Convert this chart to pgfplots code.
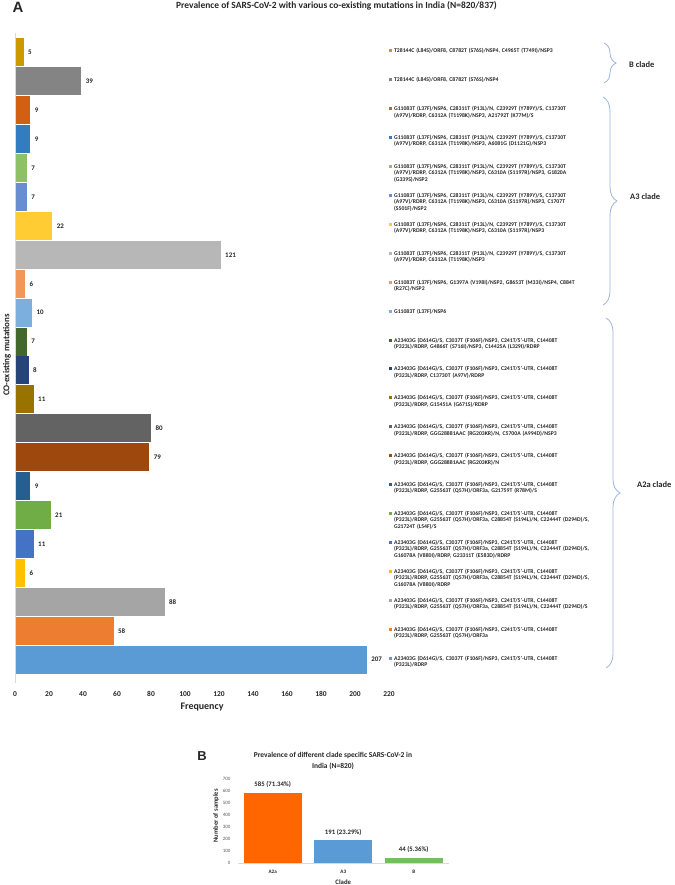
\documentclass[border=0pt]{standalone}
\usepackage{pgfplots}
\pgfplotsset{compat=1.18}
\usepackage{fontspec}
\setmainfont{Carlito}
\newfontfamily\arialfont{Liberation Sans}
\usetikzlibrary{decorations.pathreplacing}

\definecolor{c01}{HTML}{CC9A00}
\definecolor{c02}{HTML}{848484}
\definecolor{c03}{HTML}{D26012}
\definecolor{c04}{HTML}{327DC2}
\definecolor{c05}{HTML}{8CC168}
\definecolor{c06}{HTML}{698ED0}
\definecolor{c07}{HTML}{FFCD33}
\definecolor{c08}{HTML}{B7B7B7}
\definecolor{c09}{HTML}{F1975A}
\definecolor{c10}{HTML}{7CAFDD}
\definecolor{c11}{HTML}{43682B}
\definecolor{c12}{HTML}{264478}
\definecolor{c13}{HTML}{997300}
\definecolor{c14}{HTML}{636363}
\definecolor{c15}{HTML}{9E480E}
\definecolor{c16}{HTML}{255E91}
\definecolor{c17}{HTML}{70AD47}
\definecolor{c18}{HTML}{4472C4}
\definecolor{c19}{HTML}{FFC000}
\definecolor{c20}{HTML}{A5A5A5}
\definecolor{c21}{HTML}{ED7D31}
\definecolor{c22}{HTML}{5B9BD5}
\definecolor{txt}{HTML}{262626}
\definecolor{legtxt}{HTML}{262626}
\definecolor{bracecol}{HTML}{9DB4E0}
\definecolor{axgray}{HTML}{D9D9D9}
\definecolor{tickgray}{HTML}{595959}
\definecolor{borange}{HTML}{FF6600}
\definecolor{bblue}{HTML}{5B9BD5}
\definecolor{bgreen}{HTML}{77BD5F}

\newcommand{\legfont}{\fontsize{5.75}{6.4}\selectfont\bfseries}
\newcommand{\gA}{G11083T (L37F)/NSP6, C28311T (P13L)/N, C23929T (Y789Y)/S, C13730T\\(A97V)/RDRP, C6312A (T1198K)/NSP3}
\newcommand{\pA}{A23403G (D614G)/S, C3037T (F106F)/NSP3, C241T/5'-UTR, C14408T\\(P323L)/RDRP}
\newcommand{\lentry}[3]{%
  \node[anchor=base west, inner sep=0pt, text=#2, yshift=-0.5bp] at (axis cs:220,#1) {\rule[0.5bp]{3bp}{3bp}};
  \node[anchor=base west, inner sep=0pt, text width=250bp, align=left, font=\legfont, text=legtxt, yshift=-0.5bp] at (axis cs:222.9,#1) {#3};
}
\pgfplotsset{mybar/.style={bar shift=0pt, draw=none, fill=#1}}

\begin{document}
\begin{tikzpicture}
\useasboundingbox (0,0) rectangle (675bp,885bp);

% ---------------- Chart A ----------------
\begin{axis}[
  at={(15bp,202bp)}, anchor=south west,
  scale only axis, width=374bp, height=650bp,
  xmin=0, xmax=220, ymin=-0.81, ymax=21.67,
  xtick={0,20,...,220}, ytick=\empty,
  axis line style={draw=none},
  major tick length=0pt,
  /pgf/number format/assume math mode=true,
  xticklabel style={font=\fontsize{7.5}{8}\selectfont\bfseries, text=txt, yshift=-5bp},
  xlabel={Frequency},
  xlabel style={at={(axis description cs:0.5,0)}, anchor=center, yshift=-24bp, font=\fontsize{10}{12}\selectfont\bfseries, text=txt},
  ylabel={CO-existing mutations},
  every axis y label/.style={at={(axis description cs:-0.0214,0.5046)}, rotate=90, anchor=center, font=\fontsize{9}{11}\selectfont\bfseries, text=txt},
  clip=false,
  xbar, bar width=28bp,
  point meta=x,
  nodes near coords,
  every node near coord/.append style={anchor=west, font=\fontsize{7}{8}\selectfont\bfseries, text=txt, xshift=1bp},
]
\addplot[mybar=c01] coordinates {(5,21)};
\addplot[mybar=c02] coordinates {(39,20)};
\addplot[mybar=c03] coordinates {(9,19)};
\addplot[mybar=c04] coordinates {(9,18)};
\addplot[mybar=c05] coordinates {(7,17)};
\addplot[mybar=c06] coordinates {(7,16)};
\addplot[mybar=c07] coordinates {(22,15)};
\addplot[mybar=c08] coordinates {(121,14)};
\addplot[mybar=c09] coordinates {(6,13)};
\addplot[mybar=c10] coordinates {(10,12)};
\addplot[mybar=c11] coordinates {(7,11)};
\addplot[mybar=c12] coordinates {(8,10)};
\addplot[mybar=c13] coordinates {(11,9)};
\addplot[mybar=c14] coordinates {(80,8)};
\addplot[mybar=c15] coordinates {(79,7)};
\addplot[mybar=c16] coordinates {(9,6)};
\addplot[mybar=c17] coordinates {(21,5)};
\addplot[mybar=c18] coordinates {(11,4)};
\addplot[mybar=c19] coordinates {(6,3)};
\addplot[mybar=c20] coordinates {(88,2)};
\addplot[mybar=c21] coordinates {(58,1)};
\addplot[mybar=c22] coordinates {(207,0)};

\draw[axgray, line width=0.6bp] (axis cs:0,-0.81) -- (axis cs:0,21.67);

\lentry{21}{c01}{T28144C (L84S)/ORF8, C8782T (S76S)/NSP4, C4965T (T749I)/NSP3}
\lentry{20}{c02}{T28144C (L84S)/ORF8, C8782T (S76S)/NSP4}
\lentry{19}{c03}{\gA, A21792T (K77M)/S}
\lentry{18}{c04}{\gA, A6081G (D1121G)/NSP3}
\lentry{17}{c05}{\gA, C6310A (S1197R)/NSP3, G1820A\\(G339S)/NSP2}
\lentry{16}{c06}{\gA, C6310A (S1197R)/NSP3, C1707T\\(S501F)/NSP2}
\lentry{15}{c07}{\gA, C6310A (S1197R)/NSP3}
\lentry{14}{c08}{\gA}
\lentry{13}{c09}{G11083T (L37F)/NSP6, G1397A (V198I)/NSP2, G8653T (M33I)/NSP4, C884T\\(R27C)/NSP2}
\lentry{12}{c10}{G11083T (L37F)/NSP6}
\lentry{11}{c11}{\pA, G4866T (S716I)/NSP3, C14425A (L329I)/RDRP}
\lentry{10}{c12}{\pA, C13730T (A97V)/RDRP}
\lentry{9}{c13}{\pA, G15451A (G671S)/RDRP}
\lentry{8}{c14}{\pA, GGG28881AAC (RG203KR)/N, C5700A (A994D)/NSP3}
\lentry{7}{c15}{\pA, GGG28881AAC (RG203KR)/N}
\lentry{6}{c16}{\pA, G25563T (Q57H)/ORF3a, G21759T (R78M)/S}
\lentry{5}{c17}{\pA, G25563T (Q57H)/ORF3a, C28854T (S194L)/N, C22444T (D294D)/S,\\G21724T (L54F)/S}
\lentry{4}{c18}{\pA, G25563T (Q57H)/ORF3a, C28854T (S194L)/N, C22444T (D294D)/S,\\G16078A (V880I)/RDRP, G23311T (E583D)/RDRP}
\lentry{3}{c19}{\pA, G25563T (Q57H)/ORF3a, C28854T (S194L)/N, C22444T (D294D)/S,\\G16078A (V880I)/RDRP}
\lentry{2}{c20}{\pA, G25563T (Q57H)/ORF3a, C28854T (S194L)/N, C22444T (D294D)/S}
\lentry{1}{c21}{\pA, G25563T (Q57H)/ORF3a}
\lentry{0}{c22}{\pA}
\end{axis}

% titles and braces for chart A
\node[font=\arialfont\fontsize{15}{16}\selectfont\bfseries, text=txt] at (18bp,878bp) {A};
\node[font=\fontsize{9.5}{11}\selectfont\bfseries, text=txt] at (336.5bp,879bp) {Prevalence of SARS-CoV-2 with various co-existing mutations in India (N=820/837)};

\draw[bracecol, line width=0.8bp, decorate, decoration={brace, amplitude=12bp}] (604bp,842bp) -- (604bp,802bp);
\draw[bracecol, line width=0.8bp, decorate, decoration={brace, amplitude=14bp}] (603bp,788bp) -- (603bp,580bp);
\draw[bracecol, line width=0.8bp, decorate, decoration={brace, amplitude=14bp}] (606bp,567bp) -- (606bp,217bp);
\node[anchor=west, inner sep=0pt, font=\fontsize{8.5}{10}\selectfont\bfseries, text=txt] at (629bp,820bp) {B clade};
\node[anchor=west, inner sep=0pt, font=\fontsize{8.5}{10}\selectfont\bfseries, text=txt] at (630bp,688bp) {A3 clade};
\node[anchor=west, inner sep=0pt, font=\fontsize{8.5}{10}\selectfont\bfseries, text=txt] at (637bp,400bp) {A2a clade};

% ---------------- Chart B ----------------
\begin{axis}[
  at={(237.5bp,22bp)}, anchor=south west,
  scale only axis, width=211.5bp, height=84bp,
  xmin=-0.5, xmax=2.5, ymin=0, ymax=700,
  xtick={0,1,2}, xticklabels={A2a,A3,B},
  ytick={0,100,...,700},
  axis line style={draw=none},
  major tick length=0pt,
  /pgf/number format/assume math mode=true,
  yticklabel style={font=\fontsize{5}{6}\selectfont, text=tickgray, xshift=-3.5bp},
  xticklabel style={font=\fontsize{5.2}{6}\selectfont\bfseries, text=txt, yshift=-4bp},
  xlabel={Clade},
  xlabel style={at={(axis description cs:0.5,0)}, anchor=center, yshift=-19bp, font=\fontsize{6.8}{8}\selectfont\bfseries, text=txt},
  ylabel={Number of samples},
  every axis y label/.style={at={(axis description cs:-0.1017,0.56)}, rotate=90, anchor=center, font=\fontsize{6.6}{8}\selectfont\bfseries, text=txt},
  clip=false,
  ybar, bar width=58bp,
  every node near coord/.append style={anchor=south, font=\fontsize{6.8}{8}\selectfont\bfseries, text=txt, yshift=1.5bp},
]
\addplot[bar shift=0pt, draw=none, fill=borange, nodes near coords={585 (71.34\%)}] coordinates {(0,585)};
\addplot[bar shift=0pt, draw=none, fill=bblue, nodes near coords={191 (23.29\%)}] coordinates {(1,191)};
\addplot[bar shift=0pt, draw=none, fill=bgreen, nodes near coords={44 (5.36\%)}] coordinates {(2,44)};
\draw[axgray, line width=0.6bp] (axis cs:-0.5,0) -- (axis cs:2.5,0);
\end{axis}

\node[font=\arialfont\fontsize{13}{14}\selectfont\bfseries, text=txt] at (202bp,129bp) {B};
\node[font=\fontsize{7.5}{11}\selectfont\bfseries, text=txt, align=center] at (333bp,124.5bp) {Prevalence of different clade specific SARS-CoV-2 in\\India (N=820)};
\end{tikzpicture}
\end{document}
